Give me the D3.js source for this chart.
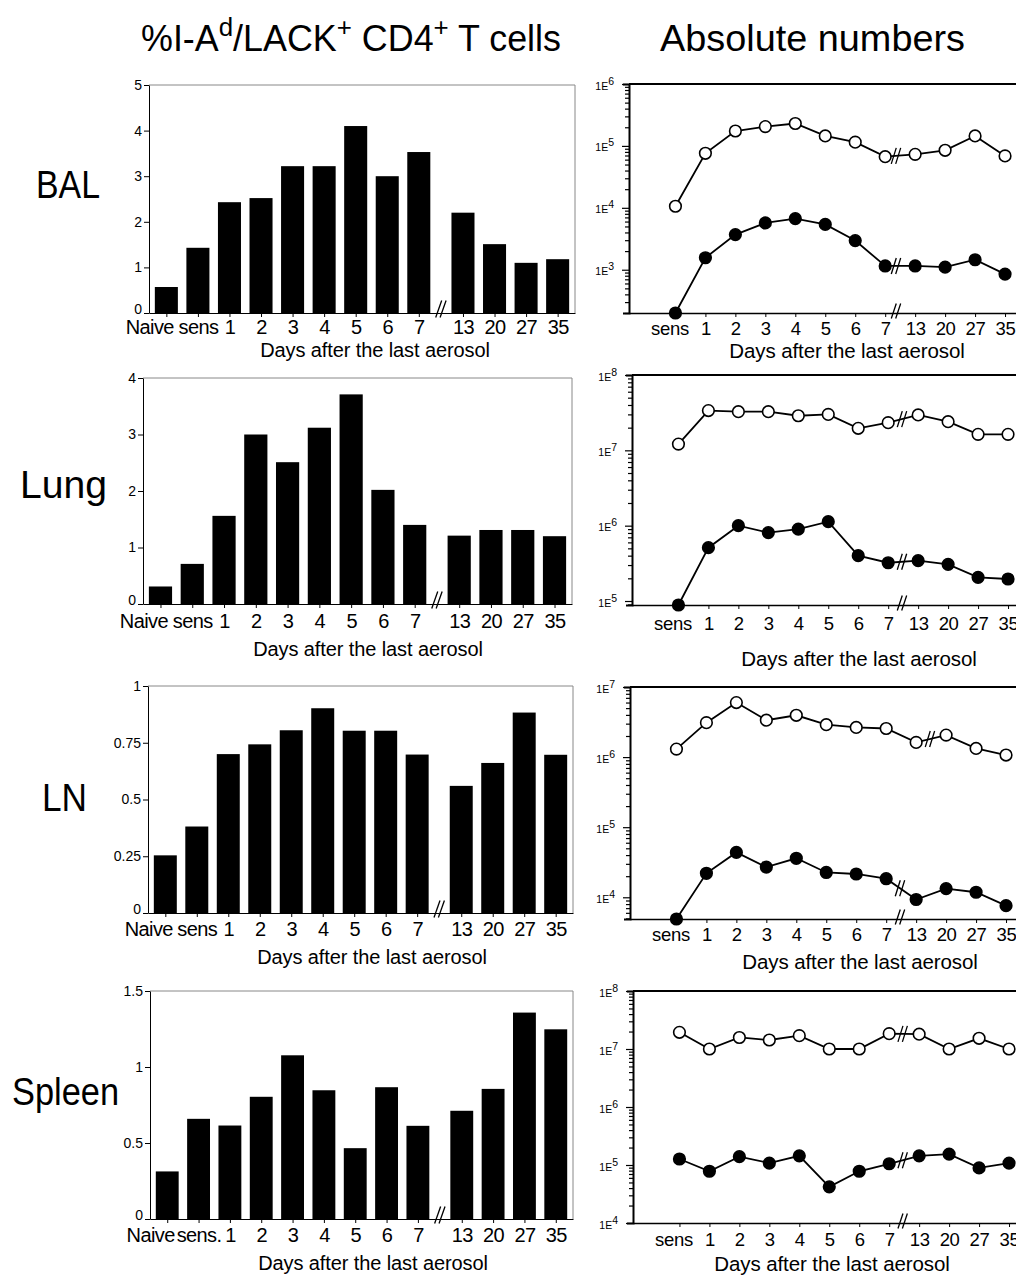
<!DOCTYPE html>
<html>
<head>
<meta charset="utf-8">
<script src="https://cdn.jsdelivr.net/npm/d3@7"></script>
<style>
body { margin: 0; background: #fff; }
svg text { font-family: "Liberation Sans", Arial, sans-serif; fill: #000; white-space: pre; }
</style>
</head>
<body>
<div id="chart"></div>
<script>
"use strict";

// tick labels
const barLabels = ["Naive", "sens", "1", "2", "3", "4", "5", "6", "7", "13", "20", "27", "35"];
const spleenBarLabels = ["Naive", "sens.", "1", "2", "3", "4", "5", "6", "7", "13", "20", "27", "35"];
const lineLabels = ["sens", "1", "2", "3", "4", "5", "6", "7", "13", "20", "27", "35"];

// % I-Ad/LACK+ of CD4+ T cells
const balPercent = [0.57, 1.43, 2.43, 2.52, 3.22, 3.22, 4.10, 3.0, 3.53, 2.2, 1.51, 1.10, 1.18];
const lungPercent = [0.31, 0.71, 1.56, 3.0, 2.51, 3.12, 3.71, 2.02, 1.4, 1.21, 1.31, 1.31, 1.2];
const lnPercent = [0.254, 0.381, 0.70, 0.743, 0.805, 0.902, 0.803, 0.803, 0.698, 0.56, 0.661, 0.883, 0.697];
const spleenPercent = [0.313, 0.659, 0.615, 0.804, 1.077, 0.847, 0.466, 0.867, 0.613, 0.712, 0.856, 1.358, 1.248];

const balTicks = [0, 1, 2, 3, 4, 5];
const lungTicks = [0, 1, 2, 3, 4];
const lnTicks = [0, 0.25, 0.5, 0.75, 1];
const spleenTicks = [0, 0.5, 1, 1.5];

// absolute numbers (open = total CD4, filled = I-Ad/LACK+)
const balOpen = [1.06e4, 7.6e4, 1.74e5, 2.05e5, 2.3e5, 1.45e5, 1.15e5, 6.7e4, 7.3e4, 8.5e4, 1.45e5, 6.9e4];
const balFilled = [200, 1.56e3, 3.7e3, 5.7e3, 6.7e3, 5.4e3, 2.96e3, 1.15e3, 1.15e3, 1.1e3, 1.45e3, 850];
const lungOpen = [1.21e7, 3.37e7, 3.26e7, 3.26e7, 2.88e7, 3.0e7, 1.96e7, 2.33e7, 2.95e7, 2.4e7, 1.63e7, 1.63e7];
const lungFilled = [8.85e4, 5.1e5, 1.0e6, 8.1e5, 9.0e5, 1.13e6, 4.0e5, 3.22e5, 3.43e5, 3.07e5, 2.06e5, 1.96e5];
const lnOpen = [1.3e6, 3.1e6, 6.0e6, 3.36e6, 3.95e6, 2.9e6, 2.65e6, 2.56e6, 1.62e6, 2.06e6, 1.33e6, 1.07e6];
const lnFilled = [4.9e3, 2.2e4, 4.37e4, 2.7e4, 3.6e4, 2.26e4, 2.15e4, 1.84e4, 9.3e3, 1.33e4, 1.18e4, 7.6e3];
const spleenOpen = [1.94e7, 1.0e7, 1.58e7, 1.43e7, 1.7e7, 1.0e7, 1.0e7, 1.84e7, 1.8e7, 1.0e7, 1.53e7, 1.0e7];
const spleenFilled = [1.27e5, 7.8e4, 1.39e5, 1.08e5, 1.44e5, 4.2e4, 7.8e4, 1.05e5, 1.44e5, 1.54e5, 8.9e4, 1.08e5];

const balRange = [200, 1e6];
const lungRange = [8.85e4, 1e8];
const lnRange = [4.9e3, 1e7];
const spleenRange = [1e4, 1e8];

const panels = [
    {
        name: "BAL", nameX: 36, nameY: 198, nameW: 64,
        bars: balPercent, ticks: balTicks, labels: barLabels,
        bar: { left: 149, right: 575, top: 85, bottom: 313, labelY: 334, titleX: 375, titleY: 357 },
        line: { left: 629, top: 84, bottom: 313, labelY: 335, titleX: 847, titleY: 358,
                open: balOpen, filled: balFilled, domain: balRange, openBreak: 7, filledBreak: 7, t: 0.36 }
    },
    {
        name: "Lung", nameX: 20, nameY: 498, nameW: 87,
        bars: lungPercent, ticks: lungTicks, labels: barLabels,
        bar: { left: 143, right: 572, top: 378, bottom: 604, labelY: 628, titleX: 368, titleY: 656 },
        line: { left: 632, top: 375, bottom: 605, labelY: 630, titleX: 859, titleY: 666,
                open: lungOpen, filled: lungFilled, domain: lungRange, openBreak: 7, filledBreak: 7, t: 0.46 }
    },
    {
        name: "LN", nameX: 42, nameY: 811, nameW: 45,
        bars: lnPercent, ticks: lnTicks, labels: barLabels,
        bar: { left: 148, right: 573, top: 686, bottom: 913, labelY: 936, titleX: 372, titleY: 964 },
        line: { left: 630, top: 687, bottom: 919, labelY: 941, titleX: 860, titleY: 969,
                open: lnOpen, filled: lnFilled, domain: lnRange, openBreak: 8, filledBreak: 7, t: 0.46 }
    },
    {
        name: "Spleen", nameX: 12, nameY: 1105, nameW: 107,
        bars: spleenPercent, ticks: spleenTicks, labels: spleenBarLabels,
        bar: { left: 150, right: 573, top: 991, bottom: 1219, labelY: 1242, titleX: 373, titleY: 1270 },
        line: { left: 633, top: 991, bottom: 1223, labelY: 1246, titleX: 832, titleY: 1271,
                open: spleenOpen, filled: spleenFilled, domain: spleenRange, openBreak: 7, filledBreak: 7, t: 0.45 }
    }
];

const svg = d3.select("#chart")
    .append("svg")
    .attr("width", 1016)
    .attr("height", 1276);

drawHeaders();
panels.forEach(function (p) {
    svg.append("text")
        .attr("x", p.nameX)
        .attr("y", p.nameY)
        .attr("font-size", 38)
        .attr("textLength", p.nameW)
        .attr("lengthAdjust", "spacingAndGlyphs")
        .text(p.name);
    drawBars(p);
    drawLines(p);
});

function drawHeaders() {
    let h1 = svg.append("text")
        .attr("x", 141)
        .attr("y", 51)
        .attr("font-size", 36)
        .attr("textLength", 420)
        .attr("lengthAdjust", "spacingAndGlyphs");
    h1.append("tspan").text("%I-A");
    h1.append("tspan").attr("font-size", 26).attr("dy", -15).text("d");
    h1.append("tspan").attr("dy", 15).text("/LACK");
    h1.append("tspan").attr("font-size", 26).attr("dy", -15).text("+");
    h1.append("tspan").attr("dy", 15).text(" CD4");
    h1.append("tspan").attr("font-size", 26).attr("dy", -15).text("+");
    h1.append("tspan").attr("dy", 15).text(" T cells");

    svg.append("text")
        .attr("x", 660)
        .attr("y", 51)
        .attr("font-size", 36)
        .attr("textLength", 305)
        .attr("lengthAdjust", "spacingAndGlyphs")
        .text("Absolute numbers");
}

function slashes(g, cx, cy, h, w) {
    [-2.2, 2.2].forEach(function (off) {
        g.append("line")
            .attr("x1", cx + off - w / 2).attr("y1", cy + h / 2)
            .attr("x2", cx + off + w / 2).attr("y2", cy - h / 2)
            .attr("stroke", "#000")
            .attr("stroke-width", 1.3);
    });
}

function drawBars(p) {
    let b = p.bar;
    let g = svg.append("g");
    let pos = function (i) { return i > 8 ? i + 0.4 : i; };

    let x = d3.scaleLinear().domain([-0.55, 12.95]).range([b.left, b.right]);
    let y = d3.scaleLinear().domain([0, d3.max(p.ticks)]).range([b.bottom, b.top]);
    let bw = x(0.73) - x(0);

    // frame top / right
    g.append("path")
        .attr("d", "M" + b.left + "," + b.top + "H" + b.right + "V" + b.bottom)
        .attr("fill", "none")
        .attr("stroke", "#888")
        .attr("stroke-width", 1);

    g.selectAll(".bar")
        .data(p.bars)
        .enter()
        .append("rect")
        .attr("x", function (d, i) { return x(pos(i)) - bw / 2; })
        .attr("y", function (d) { return y(d); })
        .attr("width", bw)
        .attr("height", function (d) { return y(0) - y(d); })
        .attr("fill", "#000");

    let yAxis = d3.axisLeft(y)
        .tickValues(p.ticks)
        .tickSize(5)
        .tickSizeOuter(0)
        .tickPadding(2)
        .tickFormat(function (d) { return String(d); });
    let ya = g.append("g")
        .attr("transform", "translate(" + b.left + ",0)")
        .call(yAxis);
    ya.selectAll("text")
        .attr("font-size", 14)
        .attr("font-family", null)
        .attr("y", function (d) { return d === 0 ? -4 : 0; });

    let xAxis = d3.axisBottom(x)
        .tickValues(p.bars.map(function (d, i) { return pos(i); }))
        .tickSize(4)
        .tickSizeOuter(0)
        .tickFormat(function (d, i) { return p.labels[i]; });
    let xa = g.append("g")
        .attr("transform", "translate(0," + b.bottom + ")")
        .call(xAxis);
    xa.selectAll("text")
        .attr("font-size", 20)
        .attr("font-family", null)
        .attr("letter-spacing", -0.6)
        .attr("y", b.labelY - b.bottom)
        .attr("dy", 0)
        .attr("text-anchor", function (d, i) { return i === 0 ? "end" : "middle"; })
        .attr("x", function (d, i) { return i === 0 ? 7 : 0; });

    slashes(g, x(8.7), b.bottom - 4, 17, 6);

    g.append("text")
        .attr("x", b.titleX)
        .attr("y", b.titleY)
        .attr("text-anchor", "middle")
        .attr("font-size", 20)
        .attr("letter-spacing", -0.1)
        .text("Days after the last aerosol");
}

function drawLines(p) {
    let l = p.line;
    let g = svg.append("g");

    let x = d3.scaleLinear().domain([-1.55, 12.2]).range([l.left, l.left + 412]);
    let y = d3.scaleLog().domain(l.domain).range([l.bottom, l.top]);

    // top border
    g.append("line")
        .attr("x1", l.left).attr("x2", 1016)
        .attr("y1", l.top).attr("y2", l.top)
        .attr("stroke", "#000")
        .attr("stroke-width", 2);

    let isMajor = function (v) {
        let e = Math.log10(v);
        return Math.abs(e - Math.round(e)) < 1e-9;
    };

    let yAxis = d3.axisLeft(y)
        .tickValues(y.ticks())
        .tickSizeOuter(0)
        .tickSize(6)
        .tickFormat(function () { return ""; });
    let ya = g.append("g")
        .attr("transform", "translate(" + l.left + ",0)")
        .call(yAxis);
    ya.select(".domain").attr("stroke-width", 2);
    ya.selectAll(".tick line")
        .attr("x2", function (d) { return isMajor(d) ? -7 : -4; })
        .attr("stroke-width", 1.2);
    ya.selectAll(".tick text").remove();
    ya.selectAll(".tick")
        .filter(function (d) { return isMajor(d); })
        .append("text")
        .attr("x", -15)
        .attr("y", 5)
        .attr("text-anchor", "end")
        .attr("font-size", 10.5)
        .attr("font-family", null)
        .each(function (d) {
            let t = d3.select(this);
            t.append("tspan").text("1E");
            t.append("tspan").attr("dy", -5).text(String(Math.round(Math.log10(d))));
        });

    let xAxis = d3.axisBottom(x)
        .tickValues(lineLabels.map(function (d, i) { return i; }))
        .tickSize(4)
        .tickSizeOuter(0)
        .tickFormat(function (d, i) { return lineLabels[i]; });
    let xa = g.append("g")
        .attr("transform", "translate(0," + l.bottom + ")")
        .call(xAxis);
    xa.select(".domain").attr("stroke-width", 1.6);
    xa.selectAll("text")
        .attr("font-size", 18.5)
        .attr("font-family", null)
        .attr("letter-spacing", -0.3)
        .attr("y", l.labelY - l.bottom)
        .attr("dy", 0)
        .attr("text-anchor", function (d, i) { return i === 0 ? "end" : "middle"; })
        .attr("x", function (d, i) { return i === 0 ? 13 : 0; });

    slashes(g, x(7 + l.t), l.bottom - 2, 15, 5);

    let line = d3.line()
        .x(function (d, i) { return x(i); })
        .y(function (d) { return y(d); });

    [[l.open, "#fff", l.openBreak], [l.filled, "#000", l.filledBreak]].forEach(function (s) {
        let vals = s[0];
        g.append("path")
            .datum(vals)
            .attr("d", line)
            .attr("fill", "none")
            .attr("stroke", "#000")
            .attr("stroke-width", 1.8);
        let k = s[2];
        let bx = x(k + l.t);
        let by = y(vals[k]) + (y(vals[k + 1]) - y(vals[k])) * l.t;
        slashes(g, bx, by, 16, 5);
        g.selectAll(".pt")
            .data(vals)
            .enter()
            .append("circle")
            .attr("cx", function (d, i) { return x(i); })
            .attr("cy", function (d) { return y(d); })
            .attr("r", 5.8)
            .attr("fill", s[1])
            .attr("stroke", "#000")
            .attr("stroke-width", 1.6);
    });

    g.append("text")
        .attr("x", l.titleX)
        .attr("y", l.titleY)
        .attr("text-anchor", "middle")
        .attr("font-size", 20.5)
        .attr("letter-spacing", -0.1)
        .text("Days after the last aerosol");
}
</script>
</body>
</html>
